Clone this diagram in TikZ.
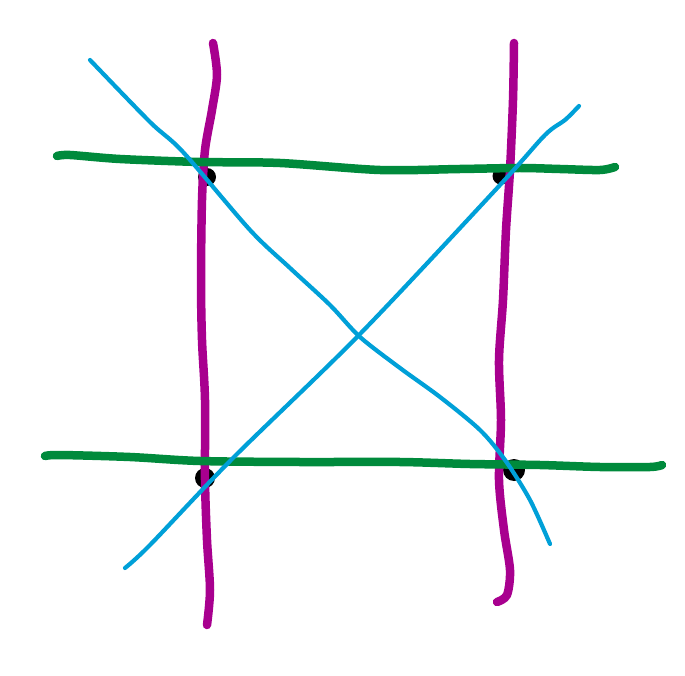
\documentclass[tikz,border=0pt]{standalone}
\usepackage{xcolor}
\usepackage{tikz}
\tikzstyle{stroke} = [line cap=round, line join=round]
\tikzstyle{magline} = [stroke, draw=bmag, line width=8.5pt]
\tikzstyle{grnline} = [stroke, draw=bgrn, line width=8.5pt]
\tikzstyle{bluline} = [stroke, draw=bblu, line width=4.2pt]
\tikzstyle{dot} = [fill=black]
\definecolor{bmag}{HTML}{A8008F}
\definecolor{bgrn}{HTML}{008A3C}
\definecolor{bblu}{HTML}{00A0D8}
\begin{document}
\begin{tikzpicture}[x=1pt, y=-1pt]
    \useasboundingbox (0,0) rectangle (685,676);

    % corner dots
    \fill[dot] (207,177) circle (9);
    \fill[dot] (501,176) circle (8.5);
    \fill[dot] (205,478) circle (10);
    \fill[dot] (514,470) circle (11);

    % vertical strokes
    \draw[magline] plot[smooth] coordinates {(213,43) (217,75) (212,110) (205,150) (202,200) (201,280) (202,340) (205,400) (205,480) (207,540) (210,590) (207,625)};
    \draw[magline] plot[smooth] coordinates {(514,43) (513,100) (510,170) (506,230) (503,300) (499,360) (501,420) (499,480) (504,530) (510,570) (507,595) (497,602)};

    % horizontal strokes
    \draw[grnline] plot[smooth] coordinates {(57,156) (70,155) (120,159) (200,162) (280,163) (380,170) (460,169) (520,168) (560,169) (600,170) (615,167)};
    \draw[grnline] plot[smooth] coordinates {(45,456) (60,455) (130,457) (200,461) (300,462) (400,462) (470,464) (540,465) (600,467) (650,467) (662,465)};

    % diagonals
    \draw[bluline] plot[smooth, tension=0.5] coordinates {(90,60) (150,122) (183,152) (250,230) (290,268) (330,305) (360,337) (400,368) (440,397) (480,430) (505,460) (530,500) (550,544)};
    \draw[bluline] plot[smooth, tension=0.5] coordinates {(579,106) (565,120) (545,135) (500,185) (360,334) (233,458) (150,545) (125,568)};
\end{tikzpicture}
\end{document}
